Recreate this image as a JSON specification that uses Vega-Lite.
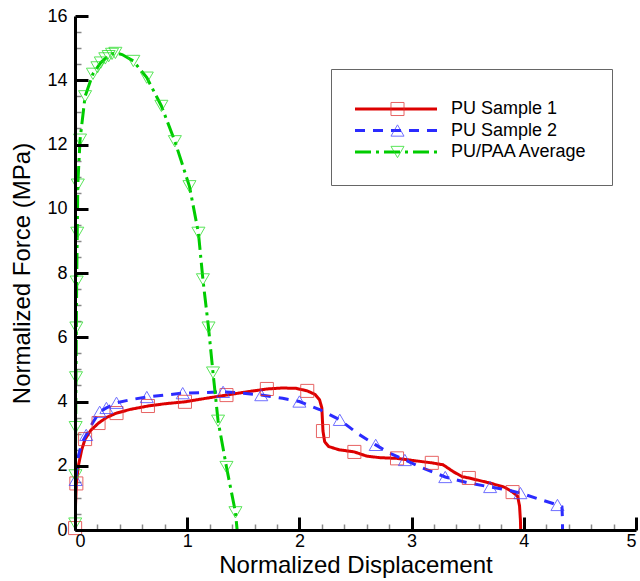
{
  "$schema": "https://vega.github.io/schema/vega-lite/v6.json",
  "width": 561,
  "height": 514,
  "autosize": {"type": "none"},
  "padding": {"left": 75, "top": 16, "right": 4, "bottom": 51},
  "background": "white",
  "config": {
    "font": "Liberation Sans",
    "view": {"stroke": null},
    "axis": {"grid": false, "labelColor": "black", "titleColor": "black", "titleFontWeight": "normal", "labelFont": "Liberation Sans", "titleFont": "Liberation Sans"}
  },
  "data": {
    "values": [
      {"s": "PU Sample 1", "i": 0, "x": 0, "y": 0, "m": 0},
      {"s": "PU Sample 1", "i": 1, "x": 0.001, "y": 0.06, "m": 1},
      {"s": "PU Sample 1", "i": 2, "x": 0.005, "y": 0.8, "m": 0},
      {"s": "PU Sample 1", "i": 3, "x": 0.012, "y": 1.45, "m": 1},
      {"s": "PU Sample 1", "i": 4, "x": 0.03, "y": 2.0, "m": 0},
      {"s": "PU Sample 1", "i": 5, "x": 0.06, "y": 2.5, "m": 0},
      {"s": "PU Sample 1", "i": 6, "x": 0.09, "y": 2.83, "m": 1},
      {"s": "PU Sample 1", "i": 7, "x": 0.14, "y": 3.1, "m": 0},
      {"s": "PU Sample 1", "i": 8, "x": 0.21, "y": 3.33, "m": 1},
      {"s": "PU Sample 1", "i": 9, "x": 0.28, "y": 3.5, "m": 0},
      {"s": "PU Sample 1", "i": 10, "x": 0.37, "y": 3.64, "m": 1},
      {"s": "PU Sample 1", "i": 11, "x": 0.5, "y": 3.76, "m": 0},
      {"s": "PU Sample 1", "i": 12, "x": 0.65, "y": 3.86, "m": 1},
      {"s": "PU Sample 1", "i": 13, "x": 0.8, "y": 3.93, "m": 0},
      {"s": "PU Sample 1", "i": 14, "x": 0.98, "y": 3.99, "m": 1},
      {"s": "PU Sample 1", "i": 15, "x": 1.15, "y": 4.09, "m": 0},
      {"s": "PU Sample 1", "i": 16, "x": 1.35, "y": 4.2, "m": 1},
      {"s": "PU Sample 1", "i": 17, "x": 1.53, "y": 4.3, "m": 0},
      {"s": "PU Sample 1", "i": 18, "x": 1.71, "y": 4.39, "m": 1},
      {"s": "PU Sample 1", "i": 19, "x": 1.85, "y": 4.42, "m": 0},
      {"s": "PU Sample 1", "i": 20, "x": 1.97, "y": 4.41, "m": 0},
      {"s": "PU Sample 1", "i": 21, "x": 2.07, "y": 4.33, "m": 1},
      {"s": "PU Sample 1", "i": 22, "x": 2.14, "y": 4.22, "m": 0},
      {"s": "PU Sample 1", "i": 23, "x": 2.18, "y": 4.05, "m": 0},
      {"s": "PU Sample 1", "i": 24, "x": 2.2, "y": 3.8, "m": 0},
      {"s": "PU Sample 1", "i": 25, "x": 2.21, "y": 3.08, "m": 1},
      {"s": "PU Sample 1", "i": 26, "x": 2.225, "y": 2.75, "m": 0},
      {"s": "PU Sample 1", "i": 27, "x": 2.26, "y": 2.6, "m": 0},
      {"s": "PU Sample 1", "i": 28, "x": 2.35, "y": 2.5, "m": 0},
      {"s": "PU Sample 1", "i": 29, "x": 2.49, "y": 2.43, "m": 1},
      {"s": "PU Sample 1", "i": 30, "x": 2.6, "y": 2.3, "m": 0},
      {"s": "PU Sample 1", "i": 31, "x": 2.72, "y": 2.25, "m": 0},
      {"s": "PU Sample 1", "i": 32, "x": 2.87, "y": 2.23, "m": 1},
      {"s": "PU Sample 1", "i": 33, "x": 3.02, "y": 2.16, "m": 0},
      {"s": "PU Sample 1", "i": 34, "x": 3.18, "y": 2.09, "m": 1},
      {"s": "PU Sample 1", "i": 35, "x": 3.28, "y": 2.03, "m": 0},
      {"s": "PU Sample 1", "i": 36, "x": 3.37, "y": 1.82, "m": 0},
      {"s": "PU Sample 1", "i": 37, "x": 3.45, "y": 1.66, "m": 0},
      {"s": "PU Sample 1", "i": 38, "x": 3.51, "y": 1.62, "m": 1},
      {"s": "PU Sample 1", "i": 39, "x": 3.7, "y": 1.46, "m": 0},
      {"s": "PU Sample 1", "i": 40, "x": 3.83, "y": 1.33, "m": 0},
      {"s": "PU Sample 1", "i": 41, "x": 3.9, "y": 1.18, "m": 1},
      {"s": "PU Sample 1", "i": 42, "x": 3.945, "y": 1.05, "m": 0},
      {"s": "PU Sample 1", "i": 43, "x": 3.962, "y": 0.75, "m": 0},
      {"s": "PU Sample 1", "i": 44, "x": 3.97, "y": 0.3, "m": 0},
      {"s": "PU Sample 1", "i": 45, "x": 3.972, "y": 0, "m": 0},
      {"s": "PU Sample 2", "i": 0, "x": 0, "y": 0, "m": 0},
      {"s": "PU Sample 2", "i": 1, "x": 0.003, "y": 0.8, "m": 0},
      {"s": "PU Sample 2", "i": 2, "x": 0.006, "y": 1.56, "m": 1},
      {"s": "PU Sample 2", "i": 3, "x": 0.03, "y": 2.3, "m": 0},
      {"s": "PU Sample 2", "i": 4, "x": 0.06, "y": 2.7, "m": 0},
      {"s": "PU Sample 2", "i": 5, "x": 0.1, "y": 2.96, "m": 1},
      {"s": "PU Sample 2", "i": 6, "x": 0.16, "y": 3.35, "m": 0},
      {"s": "PU Sample 2", "i": 7, "x": 0.22, "y": 3.68, "m": 1},
      {"s": "PU Sample 2", "i": 8, "x": 0.28, "y": 3.8, "m": 1},
      {"s": "PU Sample 2", "i": 9, "x": 0.37, "y": 3.96, "m": 1},
      {"s": "PU Sample 2", "i": 10, "x": 0.5, "y": 4.06, "m": 0},
      {"s": "PU Sample 2", "i": 11, "x": 0.64, "y": 4.14, "m": 1},
      {"s": "PU Sample 2", "i": 12, "x": 0.8, "y": 4.2, "m": 0},
      {"s": "PU Sample 2", "i": 13, "x": 0.96, "y": 4.26, "m": 1},
      {"s": "PU Sample 2", "i": 14, "x": 1.15, "y": 4.28, "m": 0},
      {"s": "PU Sample 2", "i": 15, "x": 1.32, "y": 4.3, "m": 1},
      {"s": "PU Sample 2", "i": 16, "x": 1.5, "y": 4.26, "m": 0},
      {"s": "PU Sample 2", "i": 17, "x": 1.66, "y": 4.2, "m": 1},
      {"s": "PU Sample 2", "i": 18, "x": 1.85, "y": 4.1, "m": 0},
      {"s": "PU Sample 2", "i": 19, "x": 2.0, "y": 4.0, "m": 1},
      {"s": "PU Sample 2", "i": 20, "x": 2.18, "y": 3.75, "m": 0},
      {"s": "PU Sample 2", "i": 21, "x": 2.36, "y": 3.43, "m": 1},
      {"s": "PU Sample 2", "i": 22, "x": 2.52, "y": 3.0, "m": 0},
      {"s": "PU Sample 2", "i": 23, "x": 2.68, "y": 2.65, "m": 1},
      {"s": "PU Sample 2", "i": 24, "x": 2.8, "y": 2.4, "m": 0},
      {"s": "PU Sample 2", "i": 25, "x": 2.94, "y": 2.18, "m": 1},
      {"s": "PU Sample 2", "i": 26, "x": 3.1, "y": 1.93, "m": 0},
      {"s": "PU Sample 2", "i": 27, "x": 3.3, "y": 1.65, "m": 1},
      {"s": "PU Sample 2", "i": 28, "x": 3.5, "y": 1.47, "m": 0},
      {"s": "PU Sample 2", "i": 29, "x": 3.7, "y": 1.34, "m": 1},
      {"s": "PU Sample 2", "i": 30, "x": 3.85, "y": 1.25, "m": 0},
      {"s": "PU Sample 2", "i": 31, "x": 3.97, "y": 1.15, "m": 1},
      {"s": "PU Sample 2", "i": 32, "x": 4.12, "y": 0.98, "m": 0},
      {"s": "PU Sample 2", "i": 33, "x": 4.3, "y": 0.78, "m": 1},
      {"s": "PU Sample 2", "i": 34, "x": 4.34, "y": 0.72, "m": 0},
      {"s": "PU Sample 2", "i": 35, "x": 4.345, "y": 0.3, "m": 0},
      {"s": "PU Sample 2", "i": 36, "x": 4.345, "y": 0, "m": 0},
      {"s": "PU/PAA Average", "i": 0, "x": 0, "y": 0, "m": 0},
      {"s": "PU/PAA Average", "i": 1, "x": 0.002, "y": 0.2, "m": 1},
      {"s": "PU/PAA Average", "i": 2, "x": 0.004, "y": 1.7, "m": 1},
      {"s": "PU/PAA Average", "i": 3, "x": 0.006, "y": 3.2, "m": 1},
      {"s": "PU/PAA Average", "i": 4, "x": 0.009, "y": 4.75, "m": 1},
      {"s": "PU/PAA Average", "i": 5, "x": 0.012, "y": 6.3, "m": 1},
      {"s": "PU/PAA Average", "i": 6, "x": 0.015, "y": 7.73, "m": 1},
      {"s": "PU/PAA Average", "i": 7, "x": 0.02, "y": 9.25, "m": 1},
      {"s": "PU/PAA Average", "i": 8, "x": 0.025, "y": 10.75, "m": 1},
      {"s": "PU/PAA Average", "i": 9, "x": 0.045, "y": 12.15, "m": 1},
      {"s": "PU/PAA Average", "i": 10, "x": 0.09, "y": 13.5, "m": 1},
      {"s": "PU/PAA Average", "i": 11, "x": 0.16, "y": 14.2, "m": 1},
      {"s": "PU/PAA Average", "i": 12, "x": 0.2, "y": 14.4, "m": 1},
      {"s": "PU/PAA Average", "i": 13, "x": 0.23, "y": 14.55, "m": 1},
      {"s": "PU/PAA Average", "i": 14, "x": 0.27, "y": 14.68, "m": 1},
      {"s": "PU/PAA Average", "i": 15, "x": 0.3, "y": 14.75, "m": 1},
      {"s": "PU/PAA Average", "i": 16, "x": 0.33, "y": 14.82, "m": 1},
      {"s": "PU/PAA Average", "i": 17, "x": 0.36, "y": 14.85, "m": 1},
      {"s": "PU/PAA Average", "i": 18, "x": 0.42, "y": 14.8, "m": 0},
      {"s": "PU/PAA Average", "i": 19, "x": 0.52, "y": 14.6, "m": 1},
      {"s": "PU/PAA Average", "i": 20, "x": 0.64, "y": 14.08, "m": 1},
      {"s": "PU/PAA Average", "i": 21, "x": 0.77, "y": 13.2, "m": 1},
      {"s": "PU/PAA Average", "i": 22, "x": 0.89, "y": 12.1, "m": 1},
      {"s": "PU/PAA Average", "i": 23, "x": 1.02, "y": 10.7, "m": 1},
      {"s": "PU/PAA Average", "i": 24, "x": 1.1, "y": 9.25, "m": 1},
      {"s": "PU/PAA Average", "i": 25, "x": 1.14, "y": 7.8, "m": 1},
      {"s": "PU/PAA Average", "i": 26, "x": 1.19, "y": 6.3, "m": 1},
      {"s": "PU/PAA Average", "i": 27, "x": 1.23, "y": 4.9, "m": 1},
      {"s": "PU/PAA Average", "i": 28, "x": 1.275, "y": 3.4, "m": 1},
      {"s": "PU/PAA Average", "i": 29, "x": 1.35, "y": 1.96, "m": 1},
      {"s": "PU/PAA Average", "i": 30, "x": 1.43, "y": 0.55, "m": 1},
      {"s": "PU/PAA Average", "i": 31, "x": 1.445, "y": 0, "m": 0}
    ]
  },
  "resolve": {"axis": {"x": "independent", "y": "independent"}, "scale": {"x": "shared", "y": "shared"}},
  "layer": [
    {
      "mark": {"type": "line", "strokeWidth": 3, "clip": true},
      "encoding": {
        "x": {"field": "x", "type": "quantitative", "scale": {"domain": [0, 5], "nice": false},
          "axis": {"orient": "bottom", "values": [0, 1, 2, 3, 4, 5], "title": "Normalized Displacement", "titleFontSize": 24, "titlePadding": 3, "labelFontSize": 18, "labelPadding": 15, "domainColor": "black", "domainWidth": 3, "tickColor": "black", "tickWidth": 3, "tickSize": -13, "zindex": 1}},
        "y": {"field": "y", "type": "quantitative", "scale": {"domain": [0, 16], "nice": false},
          "axis": {"orient": "left", "values": [0, 2, 4, 6, 8, 10, 12, 14, 16], "title": "Normalized Force (MPa)", "titleFontSize": 24, "titlePadding": 12, "labelFontSize": 18, "labelPadding": 21, "domainColor": "black", "domainWidth": 3, "tickColor": "black", "tickWidth": 3, "tickSize": -13, "zindex": 1}},
        "order": {"field": "i", "type": "quantitative"},
        "color": {"field": "s", "type": "nominal",
          "scale": {"domain": ["PU Sample 1", "PU Sample 2", "PU/PAA Average"], "range": ["#dd0000", "#2b2bff", "#00cc00"]},
          "legend": {"orient": "none", "legendX": 256, "legendY": 53, "title": " ", "titleFontSize": 4, "titlePadding": 3, "padding": 24, "strokeColor": "#666666", "labelFontSize": 18, "labelColor": "black", "labelOffset": 46, "symbolOffset": 32, "rowPadding": 3.5, "symbolType": "M-5.467,0H5.467", "symbolSize": 225, "symbolStrokeWidth": 3}},
        "strokeDash": {"field": "s", "type": "nominal",
          "scale": {"domain": ["PU Sample 1", "PU Sample 2", "PU/PAA Average"], "range": [[1, 0], [10, 8], [16, 5, 3, 5]]}}
      }
    },
    {
      "transform": [{"filter": "datum.m == 1"}],
      "mark": {"type": "point", "filled": false, "strokeWidth": 1, "opacity": 0.75, "size": 170},
      "encoding": {
        "x": {"field": "x", "type": "quantitative",
          "axis": {"orient": "bottom", "values": [0.2, 0.4, 0.6, 0.8, 1.2, 1.4, 1.6, 1.8, 2.2, 2.4, 2.6, 2.8, 3.2, 3.4, 3.6, 3.8, 4.2, 4.4, 4.6, 4.8], "labels": false, "domain": false, "title": null, "tickColor": "#888888", "tickWidth": 1.5, "tickSize": -6}},
        "y": {"field": "y", "type": "quantitative",
          "axis": {"orient": "left", "values": [0.5, 1, 1.5, 2.5, 3, 3.5, 4.5, 5, 5.5, 6.5, 7, 7.5, 8.5, 9, 9.5, 10.5, 11, 11.5, 12.5, 13, 13.5, 14.5, 15, 15.5], "labels": false, "domain": false, "title": null, "tickColor": "#888888", "tickWidth": 1.5, "tickSize": -6}},
        "stroke": {"field": "s", "type": "nominal", "scale": {"range": ["#e03030", "#4040ff", "#22dd22"]}},
        "shape": {"field": "s", "type": "nominal", "scale": {"range": ["square", "triangle-up", "triangle-down"]},
          "legend": {"orient": "none", "legendX": 256, "legendY": 53, "title": " ", "titleFontSize": 4, "titlePadding": 3, "padding": 24, "labelFontSize": 18, "labelOffset": 14, "labelExpr": "''", "symbolOffset": 33.5, "rowPadding": 3.5, "symbolSize": 170, "symbolStrokeWidth": 1, "symbolFillColor": "transparent", "symbolOpacity": 0.75}}
      }
    }
  ]
}
